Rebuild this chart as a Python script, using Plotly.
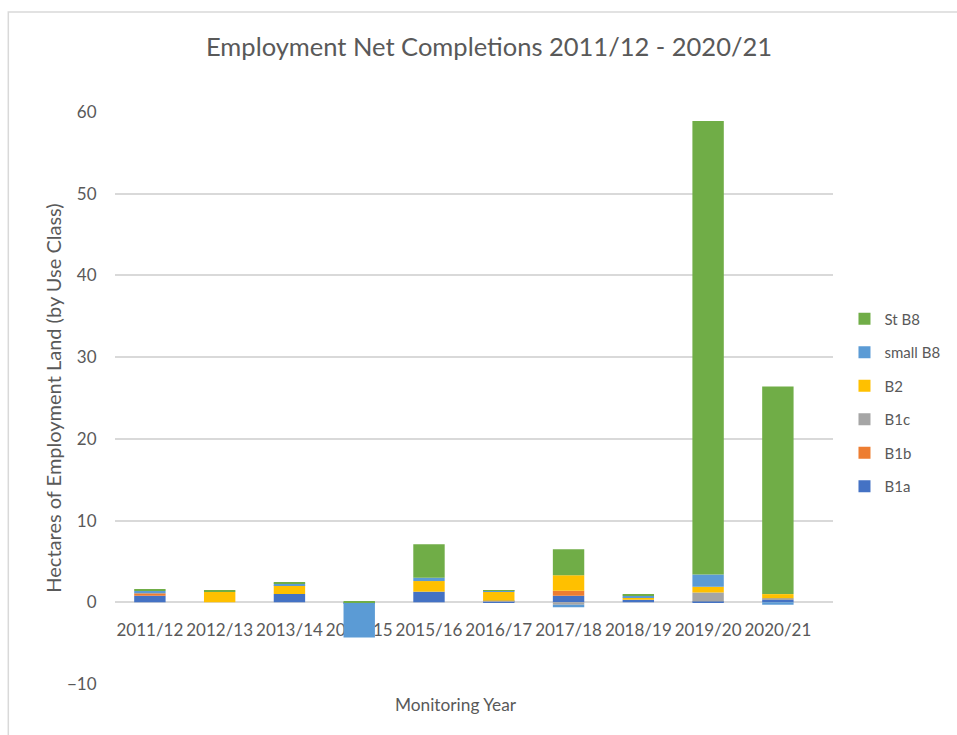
import plotly.graph_objects as go

years = ["2011/12", "2012/13", "2013/14", "2014/15", "2015/16",
         "2016/17", "2017/18", "2018/19", "2019/20", "2020/21"]

b1a     = [0.8, 0.0, 1.0, -0.1, 1.3, 0.1, 0.8, 0.3, 0.1, 0.3]
b1b     = [0.3, 0.0, 0.0, 0.0, 0.0, 0.0, 0.6, 0.0, 0.0, 0.0]
b1c     = [0.0, 0.0, 0.0, 0.0, 0.0, 0.1, -0.3, 0.0, 1.1, 0.2]
b2      = [0.0, 1.3, 1.1, 0.0, 1.3, 1.1, 1.9, 0.3, 0.7, 0.5]
small_b8 = [0.3, 0.0, 0.2, -4.2, 0.4, 0.1, -0.3, 0.2, 1.5, -0.3]
st_b8   = [0.2, 0.1, 0.1, 0.1, 4.1, 0.1, 3.2, 0.1, 55.5, 25.4]

series = [
    ("B1a", b1a, "#4472C4"),
    ("B1b", b1b, "#ED7D31"),
    ("B1c", b1c, "#A5A5A5"),
    ("B2", b2, "#FFC000"),
    ("small B8", small_b8, "#5B9BD5"),
    ("St B8", st_b8, "#70AD47"),
]

y_ticks = [-10, 0, 10, 20, 30, 40, 50, 60]

FONT = "Lato"
GREY = "#595959"

fig = go.Figure()
n = len(series)
for i, (name, vals, color) in enumerate(series):
    fig.add_trace(go.Bar(
        x=years, y=vals, name=name, legendgroup=name,
        legendrank=n - i,
        marker=dict(color=color, line=dict(width=0)),
        width=0.45,
    ))

fig.update_layout(
    width=957, height=735,
    margin=dict(l=115, r=122, t=112, b=51),
    paper_bgcolor="white", plot_bgcolor="white",
    barmode="relative",
    font=dict(family=FONT, color=GREY, size=15),
    title=dict(text="Employment Net Completions 2011/12 - 2020/21",
               x=0.511, xanchor="center", y=0.936, yanchor="middle",
               font=dict(size=25.5, color=GREY, family=FONT)),
    legend=dict(traceorder="grouped", x=1.016, xanchor="left",
                y=0.667, yanchor="top", tracegroupgap=11,
                font=dict(size=15, color=GREY, family=FONT),
                bgcolor="rgba(0,0,0,0)"),
    showlegend=True,
    xaxis=dict(
        range=[-0.5, 9.79], anchor="free", position=10 / 70,
        showgrid=False, showline=False, zeroline=False,
        ticks="outside", ticklen=12, tickcolor="rgba(0,0,0,0)",
        tickfont=dict(size=17, color=GREY, family=FONT),
        layer="below traces",
    ),
    yaxis=dict(
        range=[-10, 60], tickvals=y_ticks,
        showgrid=True, gridcolor="#D9D9D9", gridwidth=1.5,
        zeroline=False, showline=False,
        ticks="outside", ticklen=14, tickcolor="rgba(0,0,0,0)",
        tickfont=dict(size=17, color=GREY, family=FONT),
        title=dict(text="Hectares of Employment Land (by Use Class)",
                   font=dict(size=20, color=GREY, family=FONT), standoff=0),
    ),
    shapes=[dict(type="rect", xref="paper", yref="paper",
                 x0=-0.1486, x1=1.5, y0=-0.5, y1=1.1748,
                 line=dict(color="#D9D9D9", width=1.5),
                 fillcolor="rgba(0,0,0,0)", layer="below")],
    annotations=[dict(text="Monitoring Year", xref="paper", yref="paper",
                      x=0.475, y=-0.035, xanchor="center", yanchor="middle",
                      showarrow=False,
                      font=dict(size=17.3, color=GREY, family=FONT))],
)

fig.write_html("out.html")
